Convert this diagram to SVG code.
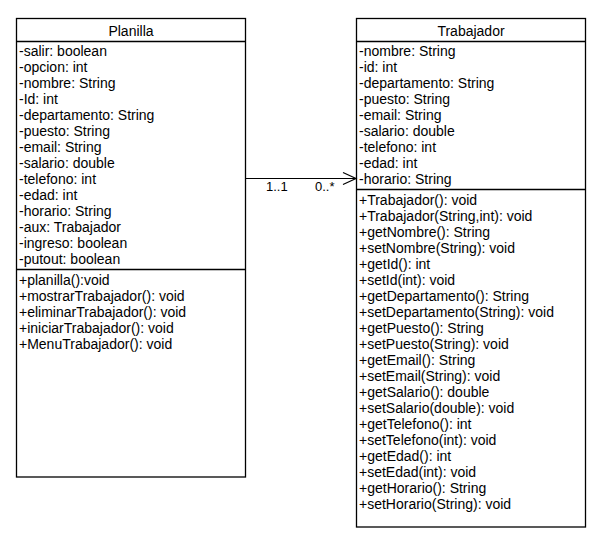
<svg xmlns="http://www.w3.org/2000/svg" width="604" height="542" viewBox="0 0 604 542">
<style>
.box{fill:#fff;stroke:#000;stroke-width:1.3}
.div{stroke:#000;stroke-width:1.3}
text{font-family:"Liberation Sans",Arial,sans-serif;font-size:14px;fill:#000}
.title{text-anchor:middle}
.lbl{font-size:13px}
.edge{fill:none;stroke:#000;stroke-width:1.2}
</style>
<rect width="604" height="542" fill="#fff"/>
<g id="Planilla">
<rect class="box" x="16.5" y="18.5" width="229" height="458.5"/>
<line class="div" x1="16.5" y1="41.5" x2="245.5" y2="41.5"/>
<line class="div" x1="16.5" y1="269.5" x2="245.5" y2="269.5"/>
<text class="title" x="131" y="36">Planilla</text>
<text x="19" y="56">-salir: boolean</text>
<text x="19" y="72">-opcion: int</text>
<text x="19" y="88">-nombre: String</text>
<text x="19" y="104">-Id: int</text>
<text x="19" y="120">-departamento: String</text>
<text x="19" y="136">-puesto: String</text>
<text x="19" y="152">-email: String</text>
<text x="19" y="168">-salario: double</text>
<text x="19" y="184">-telefono: int</text>
<text x="19" y="200">-edad: int</text>
<text x="19" y="216">-horario: String</text>
<text x="19" y="232">-aux: Trabajador</text>
<text x="19" y="248">-ingreso: boolean</text>
<text x="19" y="264">-putout: boolean</text>
<text x="19" y="285">+planilla():void</text>
<text x="19" y="301">+mostrarTrabajador(): void</text>
<text x="19" y="317">+eliminarTrabajador(): void</text>
<text x="19" y="333">+iniciarTrabajador(): void</text>
<text x="19" y="349">+MenuTrabajador(): void</text>
</g>
<g id="Trabajador">
<rect class="box" x="356.5" y="18.5" width="229" height="508.5"/>
<line class="div" x1="356.5" y1="41.5" x2="585.5" y2="41.5"/>
<line class="div" x1="356.5" y1="189.5" x2="585.5" y2="189.5"/>
<text class="title" x="471" y="36">Trabajador</text>
<text x="359" y="56">-nombre: String</text>
<text x="359" y="72">-id: int</text>
<text x="359" y="88">-departamento: String</text>
<text x="359" y="104">-puesto: String</text>
<text x="359" y="120">-email: String</text>
<text x="359" y="136">-salario: double</text>
<text x="359" y="152">-telefono: int</text>
<text x="359" y="168">-edad: int</text>
<text x="359" y="184">-horario: String</text>
<text x="359" y="205">+Trabajador(): void</text>
<text x="359" y="221">+Trabajador(String,int): void</text>
<text x="359" y="237">+getNombre(): String</text>
<text x="359" y="253">+setNombre(String): void</text>
<text x="359" y="269">+getId(): int</text>
<text x="359" y="285">+setId(int): void</text>
<text x="359" y="301">+getDepartamento(): String</text>
<text x="359" y="317">+setDepartamento(String): void</text>
<text x="359" y="333">+getPuesto(): String</text>
<text x="359" y="349">+setPuesto(String): void</text>
<text x="359" y="365">+getEmail(): String</text>
<text x="359" y="381">+setEmail(String): void</text>
<text x="359" y="397">+getSalario(): double</text>
<text x="359" y="413">+setSalario(double): void</text>
<text x="359" y="429">+getTelefono(): int</text>
<text x="359" y="445">+setTelefono(int): void</text>
<text x="359" y="461">+getEdad(): int</text>
<text x="359" y="477">+setEdad(int): void</text>
<text x="359" y="493">+getHorario(): String</text>
<text x="359" y="509">+setHorario(String): void</text>
</g>
<g id="connectors">
<line class="edge" x1="245.5" y1="178.5" x2="356" y2="178.5"/>
<polyline class="edge" points="343,172.5 356,178.5 343,184.5"/>
<text class="lbl" x="266" y="191">1..1</text>
<text class="lbl" x="315" y="191">0..*</text>
</g>
</svg>
